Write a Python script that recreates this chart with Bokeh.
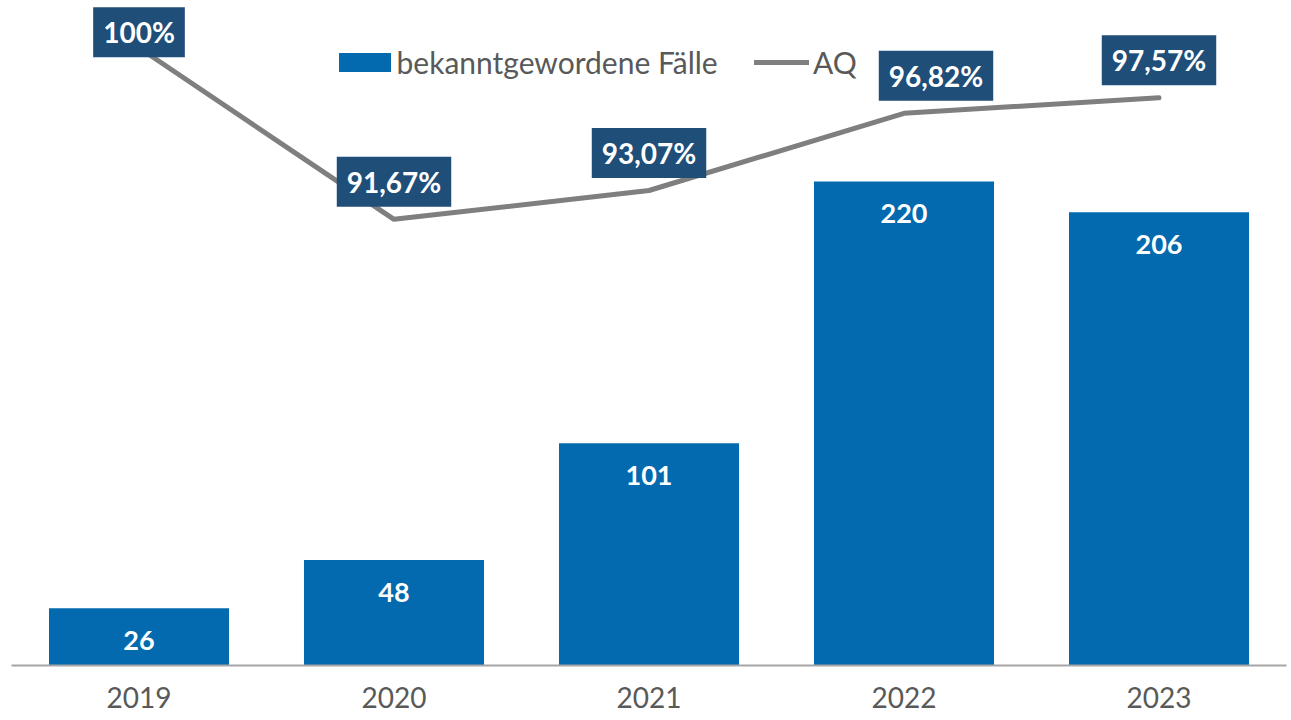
from bokeh.plotting import figure
from bokeh.models import Range1d, FixedTicker, Legend, LegendItem, ColumnDataSource
from bokeh.core.properties import value
from bokeh.embed import file_html
from bokeh.resources import INLINE

# ---- data ----
years = ["2019", "2020", "2021", "2022", "2023"]
cases = [26, 48, 101, 220, 206]
cases_labels = ["26", "48", "101", "220", "206"]
aq = [100.0, 91.67, 93.07, 96.82, 97.57]
aq_labels = ["100%", "91,67%", "93,07%", "96,82%", "97,57%"]

BAR = "#036AAF"
BOX = "#1F4E79"
LINE = "#7F7F7F"
TXT = "#595959"
FONT = "Lato"

idx = list(range(len(years)))

p = figure(width=1291, height=720, output_backend="svg", toolbar_location=None,
           x_range=Range1d(-0.5, 4.5), y_range=Range1d(0, 302.27),
           min_border_left=11, min_border_right=5, min_border_top=0, min_border_bottom=55,
           y_axis_location=None, outline_line_color=None,
           background_fill_color="white", border_fill_color="white")
p.extra_y_ranges = {"aq": Range1d(70, 102.297)}
p.xgrid.visible = False
p.ygrid.visible = False

bar_src = ColumnDataSource(dict(x=idx, cases=cases, lab=cases_labels))
line_src = ColumnDataSource(dict(x=idx, aq=aq, lab=aq_labels,
                                 dx=[0, 0, 0, 32, 0],
                                 dy=[-15.5, -37.5, -37.5, -37.5, -37.5]))

r_bar = p.vbar(x="x", top="cases", width=0.706, source=bar_src,
               fill_color=BAR, line_color=None)
p.text(x="x", y="cases", text="lab", source=bar_src, y_offset=32.5,
       text_align="center", text_baseline="middle", text_color="white",
       text_font=value(FONT), text_font_size="27px", text_font_style="bold")

r_line = p.line(x="x", y="aq", source=line_src, y_range_name="aq",
                line_color=LINE, line_width=5, line_cap="round")
p.text(x="x", y="aq", text="lab", source=line_src, y_range_name="aq",
       x_offset="dx", y_offset="dy",
       text_align="center", text_baseline="middle", text_color="white",
       text_font=value(FONT), text_font_size="28px", text_font_style="bold",
       background_fill_color=BOX, padding=dict(x=10, y=8))

ax = p.xaxis[0]
ax.ticker = FixedTicker(ticks=idx)
ax.major_label_overrides = {i: y for i, y in zip(idx, years)}
ax.major_tick_line_color = None
ax.minor_tick_line_color = None
ax.major_tick_out = 0
ax.major_tick_in = 0
ax.axis_line_color = "#A6A6A6"
ax.axis_line_width = 2
ax.major_label_text_font = FONT
ax.major_label_text_font_size = "28px"
ax.major_label_text_color = TXT
ax.major_label_standoff = 21

common = dict(orientation="horizontal", padding=0, margin=0, spacing=0,
              border_line_color=None, background_fill_alpha=0,
              label_text_font=FONT, label_text_font_size="30px",
              label_text_color=TXT)
leg1 = Legend(items=[LegendItem(label="bekanntgewordene Fälle", renderers=[r_bar])],
              location=(320.5, 585), glyph_width=65, glyph_height=24,
              label_standoff=0, **common)
leg2 = Legend(items=[LegendItem(label="AQ", renderers=[r_line])],
              location=(743, 585), glyph_width=55, glyph_height=24,
              label_standoff=4, **common)
p.add_layout(leg1)
p.add_layout(leg2)

open("out.html", "w").write(file_html(p, INLINE))
